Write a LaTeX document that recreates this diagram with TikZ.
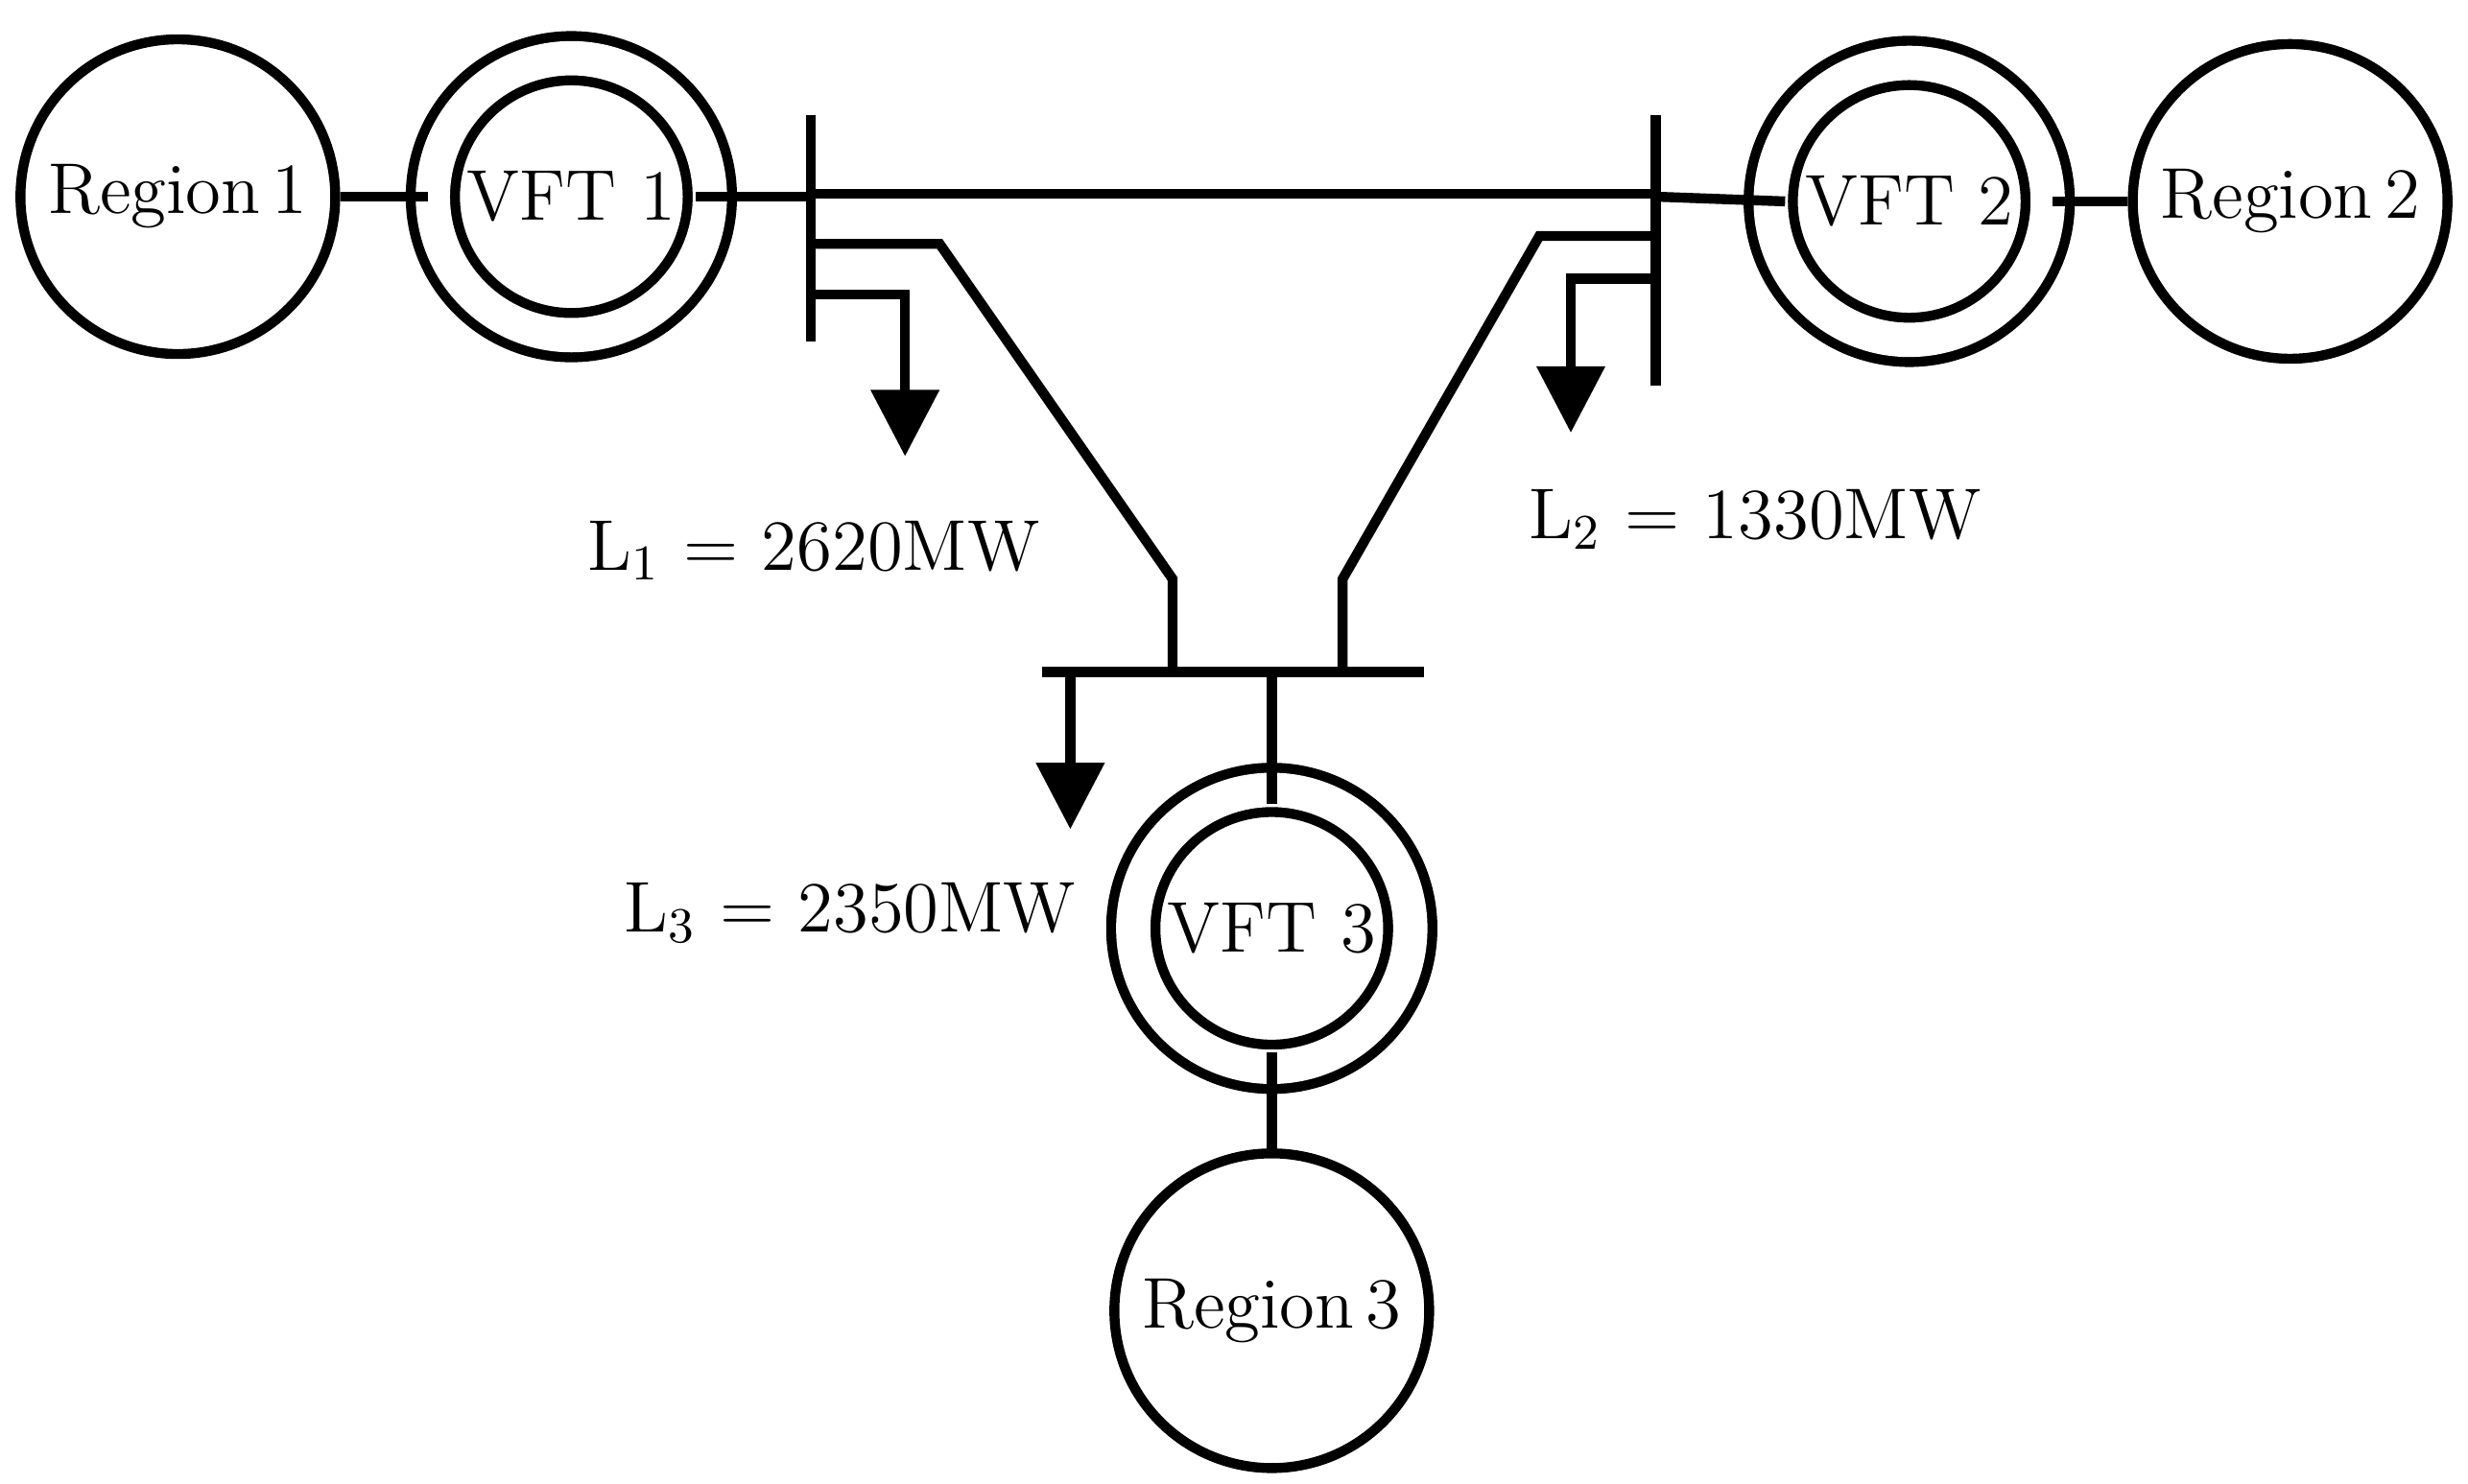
\documentclass[tikz,border=0pt]{standalone}
\usetikzlibrary{arrows.meta}
\begin{document}
\begin{tikzpicture}[x=0.01cm,y=-0.01cm,line width=1.8pt,
  reg/.style={circle,draw,minimum size=200*0.01cm,inner sep=0pt,font=\fontsize{13}{15}\selectfont},
  vft/.style={circle,draw,double distance=6.2pt,minimum size=176*0.01cm,inner sep=0pt,font=\fontsize{13}{15}\selectfont},
  lbl/.style={font=\fontsize{13}{15}\selectfont},
  arr/.style={-{Triangle[length=12pt,width=12pt]}}]
\useasboundingbox (0,0) rectangle (1568,943);
\node[reg] (r1) at (113,125) {Region\,1};
\node[vft] (v1) at (363,125) {VFT\ 1};
\node[vft] (v2) at (1213,128) {VFT\ 2};
\node[reg] (r2) at (1455,128) {Region\,2};
\node[vft] (v3) at (808,590) {VFT\ 3};
\node[reg] (r3) at (808,833) {Region\,3};
\coordinate (b1t) at (515,73); \coordinate (b1b) at (515,217);
\coordinate (b2t) at (1052,73); \coordinate (b2b) at (1052,245);
\coordinate (b3l) at (662,427); \coordinate (b3r) at (905,427);
\draw (b1t)--(b1b); \draw (b2t)--(b2b); \draw (b3l)--(b3r);
\draw (r1.east)--(v1.west|-r1.east);
\draw ([xshift=-3.5pt]v1.east)--(515,125);
\draw (515,123)--(1052,123);
\draw (1052,125)--([xshift=3.5pt]v2.west);
\draw (v2.east)--(r2.west);
\draw (515,155)--(597,155)--(745,368)--(745,427);
\draw (1052,150)--(978,150)--(853,368)--(853,427);
\draw (808,427)--([yshift=-3.5pt]v3.north);
\draw ([yshift=3.5pt]v3.south)--(r3.north);
\draw[arr] (515,187)--(575,187)--(575,290);
\draw[arr] (1052,177)--(998,177)--(998,275);
\draw[arr] (680,427)--(680,527);
\node[lbl] (l1) at (517,350) {L$_1$ = 2620MW};
\node[lbl] (l2) at (1115,330) {L$_2$ = 1330MW};
\node[lbl] (l3) at (540,580) {L$_3$ = 2350MW};
\end{tikzpicture}
\end{document}
